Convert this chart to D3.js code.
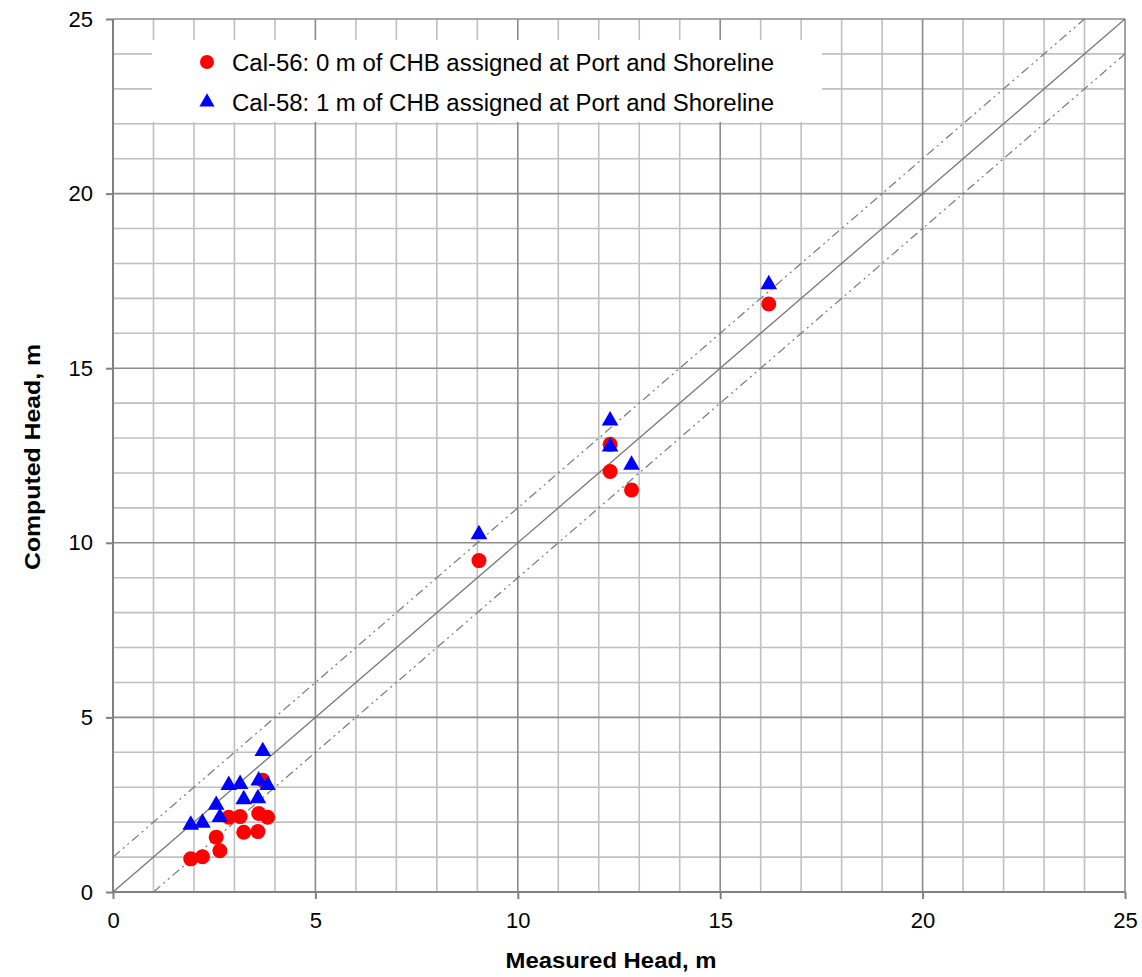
<!DOCTYPE html>
<html>
<head>
<meta charset="utf-8">
<script src="https://cdn.jsdelivr.net/npm/d3@7"></script>
<style>
  html, body { margin: 0; padding: 0; background: #fff; }
  svg { display: block; font-family: "Liberation Sans", Arial, sans-serif; }
</style>
</head>
<body>
<svg id="chart" width="1142" height="977"></svg>
<script>
// Measured vs computed head at observation wells
const measuredCal56 = [1.92, 2.21, 2.55, 2.64, 2.86, 3.14, 3.23, 3.58, 3.60, 3.70, 3.82, 9.04, 12.28, 12.28, 12.81, 16.20];
const computedCal56 = [0.95, 1.01, 1.57, 1.18, 2.14, 2.16, 1.71, 1.73, 2.25, 3.20, 2.14, 9.49, 12.82, 12.04, 11.51, 16.84];
const measuredCal58 = [1.92, 2.21, 2.55, 2.64, 2.86, 3.14, 3.23, 3.58, 3.60, 3.70, 3.82, 9.04, 12.28, 12.28, 12.81, 16.20];
const computedCal58 = [1.92, 1.98, 2.49, 2.14, 3.06, 3.09, 2.65, 2.68, 3.19, 4.03, 3.06, 10.24, 13.50, 12.75, 12.23, 17.40];
const seriesNames = ["Cal-56: 0 m of CHB assigned at Port and Shoreline",
                     "Cal-58: 1 m of CHB assigned at Port and Shoreline"];
const tickValues = [0, 5, 10, 15, 20, 25];
const minorValues = d3.range(0, 26, 1);
const domainMax = 25;
const offsetBand = 1; // +/- 1 m reference lines

const svg = d3.select("#chart");
const plotLeft = 113, plotRight = 1125, plotTop = 19, plotBottom = 892;

const x = d3.scaleLinear().domain([0, domainMax]).range([plotLeft, plotRight]);
const y = d3.scaleLinear().domain([0, domainMax]).range([plotBottom, plotTop]);

// Grid: minor every 1 m, major every 5 m
const grid = svg.append("g");
const minorOnly = minorValues.filter(v => v % 5 !== 0);
grid.selectAll("line.vmin").data(minorOnly).enter().append("line")
  .attr("x1", d => x(d)).attr("x2", d => x(d)).attr("y1", plotTop).attr("y2", plotBottom)
  .attr("stroke", "#c0c0c0").attr("stroke-width", 1.6);
grid.selectAll("line.hmin").data(minorOnly).enter().append("line")
  .attr("y1", d => y(d)).attr("y2", d => y(d)).attr("x1", plotLeft).attr("x2", plotRight)
  .attr("stroke", "#c0c0c0").attr("stroke-width", 1.6);
grid.selectAll("line.vmaj").data(tickValues.slice(1)).enter().append("line")
  .attr("x1", d => x(d)).attr("x2", d => x(d)).attr("y1", plotTop).attr("y2", plotBottom)
  .attr("stroke", "#8c8c8c").attr("stroke-width", 1.6);
grid.selectAll("line.hmaj").data(tickValues.slice(1)).enter().append("line")
  .attr("y1", d => y(d)).attr("y2", d => y(d)).attr("x1", plotLeft).attr("x2", plotRight)
  .attr("stroke", "#8c8c8c").attr("stroke-width", 1.6);

// Legend box
const legend = svg.append("g");
legend.append("rect").attr("x", 152).attr("y", 40).attr("width", 670).attr("height", 82).attr("fill", "#fff");

// Reference lines: 1:1 and +/- 1 m
const lines = svg.append("g").attr("fill", "none").attr("stroke", "#777");
lines.append("line")
  .attr("x1", x(0)).attr("y1", y(0)).attr("x2", x(domainMax)).attr("y2", y(domainMax))
  .attr("stroke-width", 1.3);
lines.append("line")
  .attr("x1", x(0)).attr("y1", y(offsetBand)).attr("x2", x(domainMax - offsetBand)).attr("y2", y(domainMax))
  .attr("stroke-width", 1.2).attr("stroke-dasharray", "9,4,2,4,2,4");
lines.append("line")
  .attr("x1", x(offsetBand)).attr("y1", y(0)).attr("x2", x(domainMax)).attr("y2", y(domainMax - offsetBand))
  .attr("stroke-width", 1.2).attr("stroke-dasharray", "9,4,2,4,2,4");

// Axes
const xAxis = svg.append("g").attr("transform", `translate(0,${plotBottom})`)
  .call(d3.axisBottom(x).tickValues(tickValues).tickSize(7).tickPadding(12));
const yAxis = svg.append("g").attr("transform", `translate(${plotLeft},0)`)
  .call(d3.axisLeft(y).tickValues(tickValues).tickSize(7).tickPadding(13));
[xAxis, yAxis].forEach(a => {
  a.select(".domain").attr("stroke", "#808080").attr("stroke-width", 2);
  a.selectAll(".tick line").attr("stroke", "#808080").attr("stroke-width", 2);
  a.selectAll(".tick text").attr("font-size", 22).attr("fill", "#000")
    .attr("font-family", "'Liberation Sans', Arial, sans-serif");
});
xAxis.select(".domain").attr("d", `M${plotLeft},0H${plotRight}`);
yAxis.select(".domain").attr("d", `M0,${plotBottom}V${plotTop}`);
xAxis.selectAll(".tick text").attr("dy", "0.75em");

// Axis titles
svg.append("text").attr("x", 611).attr("y", 968)
  .attr("text-anchor", "middle").attr("font-size", 22).attr("font-weight", "bold")
  .attr("textLength", 211).attr("lengthAdjust", "spacingAndGlyphs")
  .text("Measured Head, m");
svg.append("text")
  .attr("transform", `translate(40,457) rotate(-90)`)
  .attr("text-anchor", "middle").attr("font-size", 22).attr("font-weight", "bold")
  .attr("textLength", 226).attr("lengthAdjust", "spacingAndGlyphs")
  .text("Computed Head, m");

// Data markers
const triangle = d3.symbol().type(d3.symbolTriangle).size(120);
const cal56 = measuredCal56.map((m, i) => ({ m, c: computedCal56[i] }));
const cal58 = measuredCal58.map((m, i) => ({ m, c: computedCal58[i] }));

svg.append("g").selectAll("circle").data(cal56).enter().append("circle")
  .attr("cx", d => x(d.m)).attr("cy", d => y(d.c)).attr("r", 7.5).attr("fill", "#ff0000");
svg.append("g").selectAll("path").data(cal58).enter().append("path")
  .attr("d", triangle)
  .attr("transform", d => `translate(${x(d.m)},${y(d.c)})`).attr("fill", "#0000ff");

// Legend entries
legend.append("circle").attr("cx", 207).attr("cy", 62).attr("r", 7).attr("fill", "#ff0000");
legend.append("path").attr("d", d3.symbol().type(d3.symbolTriangle).size(100))
  .attr("transform", "translate(207,102)").attr("fill", "#0000ff");
legend.selectAll("text.lg").data(seriesNames).enter().append("text")
  .attr("x", 232).attr("y", (d, i) => 70.5 + i * 40)
  .attr("font-size", 23).attr("fill", "#000")
  .attr("textLength", 542).attr("lengthAdjust", "spacingAndGlyphs")
  .text(d => d);
</script>
</body>
</html>
